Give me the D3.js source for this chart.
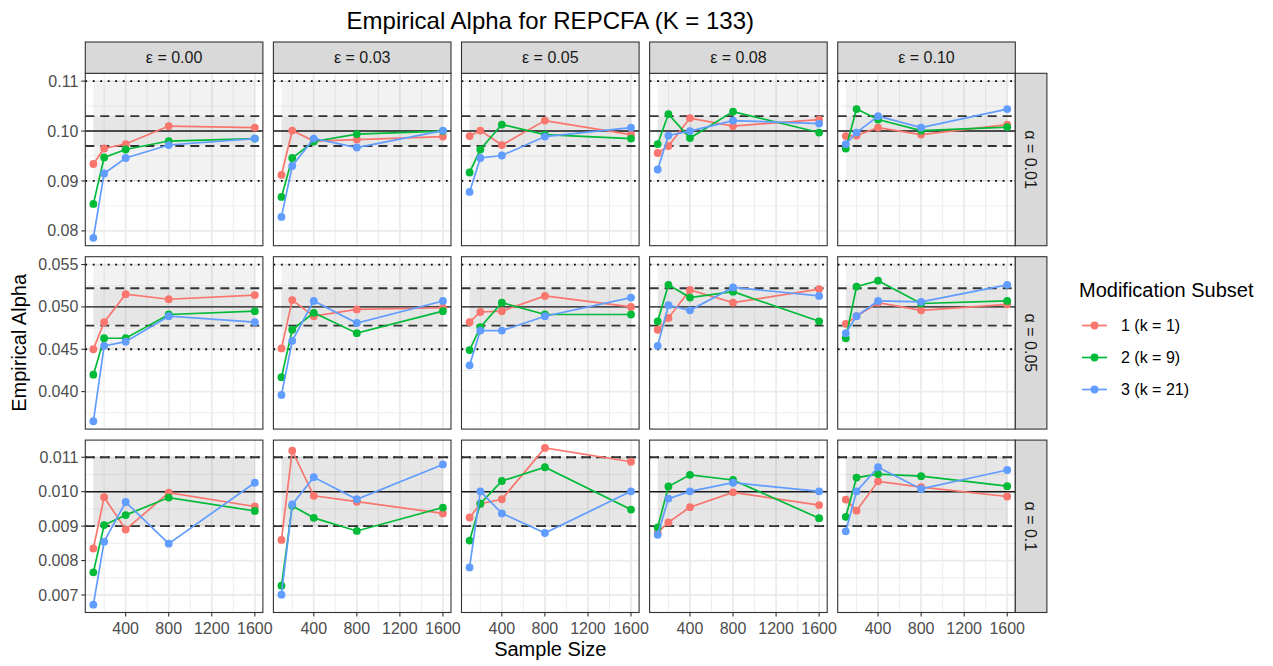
<!DOCTYPE html>
<html>
<head>
<meta charset="utf-8">
<script src="https://cdn.jsdelivr.net/npm/d3@7"></script>
<style>
  body { margin: 0; background: #fff; }
  svg { display: block; font-family: "Liberation Sans", Arial, sans-serif; }
</style>
</head>
<body>
<svg id="chart" width="1273" height="666"></svg>
<script>
// ---- data ----
var sampleSizes = [100, 200, 400, 800, 1600];
var epsilonLabels = ["ε = 0.00", "ε = 0.03", "ε = 0.05", "ε = 0.08", "ε = 0.10"];
var alphaLabels = ["α = 0.01", "α = 0.05", "α = 0.1"];
var subsetNames = ["1 (k = 1)", "2 (k = 9)", "3 (k = 21)"];

// row "α = 0.01" (values near 0.10); one inner list per ε column
var rowA_sub1 = [[0.0934, 0.0965, 0.0974, 0.1010, 0.1007],
                 [0.0912, 0.1001, 0.0980, 0.0983, 0.0989],
                 [0.0990, 0.1001, 0.0972, 0.1021, 0.0993],
                 [0.0956, 0.0970, 0.1026, 0.1010, 0.1023],
                 [0.0990, 0.0991, 0.1007, 0.0993, 0.1013]];
var rowA_sub2 = [[0.0854, 0.0947, 0.0963, 0.0980, 0.0985],
                 [0.0868, 0.0946, 0.0979, 0.0994, 0.1000],
                 [0.0917, 0.0963, 0.1013, 0.0993, 0.0985],
                 [0.0974, 0.1034, 0.0986, 0.1039, 0.0997],
                 [0.0965, 0.1044, 0.1023, 0.1001, 0.1008]];
var rowA_sub3 = [[0.0786, 0.0915, 0.0946, 0.0972, 0.0985],
                 [0.0828, 0.0930, 0.0985, 0.0967, 0.1001],
                 [0.0878, 0.0946, 0.0951, 0.0989, 0.1007],
                 [0.0923, 0.0991, 0.1000, 0.1021, 0.1015],
                 [0.0974, 0.0997, 0.1030, 0.1007, 0.1044]];

// row "α = 0.05"
var rowB_sub1 = [[0.0450, 0.0482, 0.0515, 0.0509, 0.0514],
                 [0.0451, 0.0508, 0.0489, 0.0497, 0.0499],
                 [0.0482, 0.0494, 0.0495, 0.0513, 0.0500],
                 [0.0473, 0.0487, 0.0520, 0.0505, 0.0521],
                 [0.0480, 0.0489, 0.0505, 0.0496, 0.0503]];
var rowB_sub2 = [[0.0420, 0.0463, 0.0463, 0.0491, 0.0495],
                 [0.0417, 0.0473, 0.0493, 0.0469, 0.0495],
                 [0.0449, 0.0476, 0.0505, 0.0491, 0.0491],
                 [0.0483, 0.0526, 0.0511, 0.0518, 0.0483],
                 [0.0463, 0.0524, 0.0531, 0.0504, 0.0507]];
var rowB_sub3 = [[0.0365, 0.0454, 0.0459, 0.0489, 0.0482],
                 [0.0396, 0.0460, 0.0507, 0.0481, 0.0507],
                 [0.0431, 0.0472, 0.0472, 0.0489, 0.0511],
                 [0.0454, 0.0502, 0.0496, 0.0523, 0.0513],
                 [0.0469, 0.0489, 0.0507, 0.0506, 0.0526]];

// row "α = 0.1" (values near 0.010)
var rowC_sub1 = [[0.00835, 0.00984, 0.00890, 0.00997, 0.00957],
                 [0.00860, 0.01119, 0.00988, 0.00971, 0.00937],
                 [0.00925, 0.00965, 0.00978, 0.01127, 0.01087],
                 [0.00881, 0.00911, 0.00955, 0.00998, 0.00961],
                 [0.00977, 0.00945, 0.01030, 0.01013, 0.00986]];
var rowC_sub2 = [[0.00766, 0.00903, 0.00932, 0.00983, 0.00944],
                 [0.00727, 0.00959, 0.00924, 0.00886, 0.00954],
                 [0.00858, 0.00965, 0.01031, 0.01071, 0.00948],
                 [0.00896, 0.01015, 0.01049, 0.01034, 0.00923],
                 [0.00927, 0.01041, 0.01051, 0.01045, 0.01016]];
var rowC_sub3 = [[0.00672, 0.00855, 0.00970, 0.00849, 0.01026],
                 [0.00701, 0.00963, 0.01042, 0.00978, 0.01079],
                 [0.00780, 0.01001, 0.00937, 0.00880, 0.01001],
                 [0.00875, 0.00980, 0.01001, 0.01026, 0.01001],
                 [0.00885, 0.01001, 0.01071, 0.01008, 0.01063]];

// reference lines per row
var nominal = [0.10, 0.05, 0.01];
var innerLo = [0.0970, 0.0478, 0.0090];
var innerHi = [0.1030, 0.0522, 0.0110];
var outerLo = [0.090, 0.045, 0.009];
var outerHi = [0.110, 0.055, 0.011];

var xTicks = [400, 800, 1200, 1600];
var xMinor = [200, 600, 1000, 1400];
var yTicks = [[0.08, 0.09, 0.10, 0.11],
              [0.040, 0.045, 0.050, 0.055],
              [0.007, 0.008, 0.009, 0.010, 0.011]];
var yFormats = [".2f", ".3f", ".3f"];

var rows = [[rowA_sub1, rowA_sub2, rowA_sub3],
            [rowB_sub1, rowB_sub2, rowB_sub3],
            [rowC_sub1, rowC_sub2, rowC_sub3]];

// ---- layout ----
var colors = ["#F8766D", "#00BA38", "#619CFF"];
var panelLeft = 85.3, panelW = 177.6, colGap = 10.5;
var panelTop = 73.3, panelH = 172.4, rowGap = 11;
var stripH = 31.3, stripW = 31.6;
var dotR = 3.9, lineW = 1.7;

var svg = d3.select("#chart");

var x = d3.scaleLinear()
    .domain([100 - 75, 1600 + 75])
    .range([0, panelW]);

svg.append("text")
    .attr("x", panelLeft + (5 * panelW + 4 * colGap) / 2)
    .attr("y", 29)
    .attr("text-anchor", "middle")
    .style("font-size", "24px")
    .attr("fill", "#000")
    .text("Empirical Alpha for REPCFA (K = 133)");

rows.forEach(function(subsets, r) {
    var top = panelTop + r * (panelH + rowGap);

    // free y scale: data plus reference lines, expanded 5%
    var all = [outerLo[r], outerHi[r], innerLo[r], innerHi[r]];
    subsets.forEach(function(s) { s.forEach(function(v) { all = all.concat(v); }); });
    var ext = d3.extent(all);
    var pad = (ext[1] - ext[0]) * 0.05;
    var y = d3.scaleLinear()
        .domain([ext[0] - pad, ext[1] + pad])
        .range([top + panelH, top]);

    var majors = yTicks[r];
    var step = majors[1] - majors[0];
    var minors = [];
    for (var i = -1; i < majors.length; i++) {
        var m = majors[0] + step * (i + 0.5);
        if (m > y.domain()[0] && m < y.domain()[1]) minors.push(m);
    }

    // y axis labels
    var fmt = d3.format(yFormats[r]);
    var yAxis = svg.append("g");
    majors.forEach(function(t) {
        yAxis.append("line")
            .attr("x1", panelLeft - 4).attr("x2", panelLeft)
            .attr("y1", y(t)).attr("y2", y(t))
            .attr("stroke", "#333").attr("stroke-width", 1.1);
        yAxis.append("text")
            .attr("x", panelLeft - 7)
            .attr("y", y(t))
            .attr("dy", "0.35em")
            .attr("text-anchor", "end")
            .style("font-size", "16px")
            .attr("fill", "#4D4D4D")
            .text(fmt(t));
    });

    for (var c = 0; c < 5; c++) {
        var left = panelLeft + c * (panelW + colGap);
        var g = svg.append("g").attr("transform", "translate(" + left + ",0)");

        g.append("rect")
            .attr("x", 0).attr("y", top)
            .attr("width", panelW).attr("height", panelH)
            .attr("fill", "#fff");

        // grid
        g.selectAll(".ymin").data(minors).join("line")
            .attr("x1", 0).attr("x2", panelW)
            .attr("y1", d => y(d)).attr("y2", d => y(d))
            .attr("stroke", "#EBEBEB").attr("stroke-width", 0.9);
        g.selectAll(".xmin").data(xMinor).join("line")
            .attr("x1", d => x(d)).attr("x2", d => x(d))
            .attr("y1", top).attr("y2", top + panelH)
            .attr("stroke", "#EBEBEB").attr("stroke-width", 0.9);
        g.selectAll(".ymaj").data(majors).join("line")
            .attr("x1", 0).attr("x2", panelW)
            .attr("y1", d => y(d)).attr("y2", d => y(d))
            .attr("stroke", "#EBEBEB").attr("stroke-width", 1.8);
        g.selectAll(".xmaj").data(xTicks).join("line")
            .attr("x1", d => x(d)).attr("x2", d => x(d))
            .attr("y1", top).attr("y2", top + panelH)
            .attr("stroke", "#EBEBEB").attr("stroke-width", 1.8);

        // shaded bands
        [[outerLo[r], outerHi[r]], [innerLo[r], innerHi[r]]].forEach(function(b) {
            g.append("rect")
                .attr("x", x(100)).attr("width", x(1600) - x(100))
                .attr("y", y(b[1])).attr("height", y(b[0]) - y(b[1]))
                .attr("fill", "#7F7F7F").attr("fill-opacity", 0.1);
        });

        // reference lines
        [outerLo[r], outerHi[r]].forEach(function(v) {
            g.append("line")
                .attr("x1", 0).attr("x2", panelW).attr("y1", y(v)).attr("y2", y(v))
                .attr("stroke", "#000").attr("stroke-width", 1.8)
                .attr("stroke-dasharray", "1.8,5.7");
        });
        [innerLo[r], innerHi[r]].forEach(function(v) {
            g.append("line")
                .attr("x1", 0).attr("x2", panelW).attr("y1", y(v)).attr("y2", y(v))
                .attr("stroke", "#333").attr("stroke-width", 1.8)
                .attr("stroke-dasharray", "9,6");
        });
        g.append("line")
            .attr("x1", 0).attr("x2", panelW).attr("y1", y(nominal[r])).attr("y2", y(nominal[r]))
            .attr("stroke", "#1A1A1A").attr("stroke-width", 1.4);

        // series
        var line = d3.line().x(d => x(d[0])).y(d => y(d[1]));
        subsets.forEach(function(s, k) {
            var pts = sampleSizes.map(function(n, j) { return [n, s[c][j]]; });
            g.append("path")
                .datum(pts)
                .attr("d", line)
                .attr("fill", "none")
                .attr("stroke", colors[k])
                .attr("stroke-width", lineW);
            g.selectAll(".p" + k).data(pts).join("circle")
                .attr("cx", d => x(d[0])).attr("cy", d => y(d[1]))
                .attr("r", dotR)
                .attr("fill", colors[k]);
        });

        g.append("rect")
            .attr("x", 0).attr("y", top)
            .attr("width", panelW).attr("height", panelH)
            .attr("fill", "none").attr("stroke", "#333").attr("stroke-width", 1.1);

        // top strips
        if (r === 0) {
            g.append("rect")
                .attr("x", 0).attr("y", panelTop - stripH)
                .attr("width", panelW).attr("height", stripH)
                .attr("fill", "#D9D9D9").attr("stroke", "#333").attr("stroke-width", 1.1);
            g.append("text")
                .attr("x", panelW / 2).attr("y", panelTop - stripH / 2)
                .attr("dy", "0.35em")
                .attr("text-anchor", "middle")
                .style("font-size", "16px")
                .attr("fill", "#1A1A1A")
                .text(epsilonLabels[c]);
        }

        // bottom x axis
        if (r === rows.length - 1) {
            xTicks.forEach(function(t) {
                g.append("line")
                    .attr("x1", x(t)).attr("x2", x(t))
                    .attr("y1", top + panelH).attr("y2", top + panelH + 4)
                    .attr("stroke", "#333").attr("stroke-width", 1.1);
                g.append("text")
                    .attr("x", x(t)).attr("y", top + panelH + 21)
                    .attr("text-anchor", "middle")
                    .style("font-size", "16px")
                    .attr("fill", "#4D4D4D")
                    .text(t);
            });
        }
    }

    // right strip
    var sx = panelLeft + 5 * panelW + 4 * colGap;
    svg.append("rect")
        .attr("x", sx).attr("y", top)
        .attr("width", stripW).attr("height", panelH)
        .attr("fill", "#D9D9D9").attr("stroke", "#333").attr("stroke-width", 1.1);
    svg.append("text")
        .attr("transform", "translate(" + (sx + stripW / 2) + "," + (top + panelH / 2) + ") rotate(90)")
        .attr("dy", "0.35em")
        .attr("text-anchor", "middle")
        .style("font-size", "16px")
        .attr("fill", "#1A1A1A")
        .text(alphaLabels[r]);
});

// axis titles
svg.append("text")
    .attr("x", panelLeft + (5 * panelW + 4 * colGap) / 2)
    .attr("y", 656)
    .attr("text-anchor", "middle")
    .style("font-size", "20px")
    .text("Sample Size");

svg.append("text")
    .attr("transform", "translate(26," + (panelTop + (3 * panelH + 2 * rowGap) / 2) + ") rotate(-90)")
    .attr("text-anchor", "middle")
    .style("font-size", "20px")
    .text("Empirical Alpha");

// legend
var legend = svg.append("g").attr("transform", "translate(1079,0)");
legend.append("text")
    .attr("x", 0).attr("y", 297)
    .style("font-size", "20px")
    .text("Modification Subset");
subsetNames.forEach(function(name, k) {
    var cy = 325.5 + k * 32;
    legend.append("line")
        .attr("x1", 3).attr("x2", 28).attr("y1", cy).attr("y2", cy)
        .attr("stroke", colors[k]).attr("stroke-width", lineW);
    legend.append("circle")
        .attr("cx", 15.5).attr("cy", cy).attr("r", dotR)
        .attr("fill", colors[k]);
    legend.append("text")
        .attr("x", 42).attr("y", cy).attr("dy", "0.35em")
        .style("font-size", "16px")
        .text(name);
});
</script>
</body>
</html>
